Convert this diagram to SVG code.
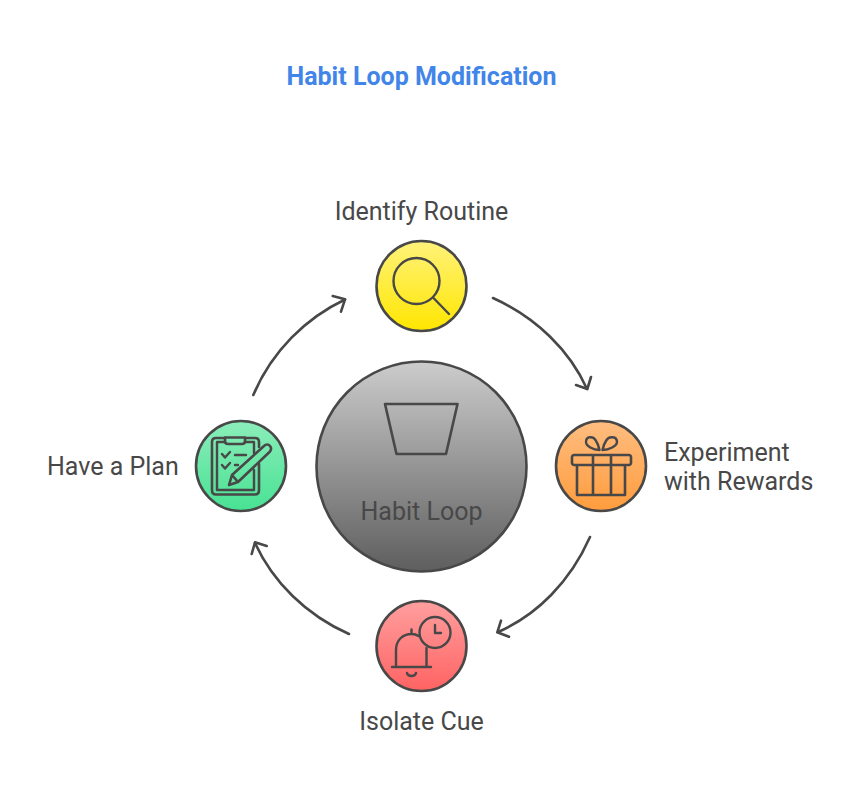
<svg xmlns="http://www.w3.org/2000/svg" width="858" height="798" viewBox="0 0 858 798">
<style>
text{font-family:Roboto,"Liberation Sans",sans-serif;font-size:25px;fill:#484848}
.c{stroke:#484848;stroke-width:2.6px}
.i{fill:none;stroke:#484848;stroke-width:2.6px;stroke-linecap:round;stroke-linejoin:round}
.l{fill:none;stroke:#484848;stroke-width:2.4px;stroke-linecap:round;stroke-linejoin:round}
</style>
<defs>
<linearGradient id="gy" x1="0" y1="0" x2="0" y2="1"><stop offset="0" stop-color="#fff27a"/><stop offset="1" stop-color="#ffe600"/></linearGradient>
<linearGradient id="go" x1="0" y1="0" x2="0" y2="1"><stop offset="0" stop-color="#ffbd80"/><stop offset="1" stop-color="#ff9c3d"/></linearGradient>
<linearGradient id="gr" x1="0" y1="0" x2="0" y2="1"><stop offset="0" stop-color="#ff9f9f"/><stop offset="1" stop-color="#ff6363"/></linearGradient>
<linearGradient id="gg" x1="0" y1="0" x2="0" y2="1"><stop offset="0" stop-color="#8cedba"/><stop offset="1" stop-color="#48e293"/></linearGradient>
<linearGradient id="gc" x1="0" y1="0" x2="0" y2="1"><stop offset="0" stop-color="#cccccc"/><stop offset="1" stop-color="#5e5e5e"/></linearGradient>
</defs>
<rect width="858" height="798" fill="#ffffff"/>
<text x="421.500" y="85" text-anchor="middle" style="font-weight:700;fill:#4285e8">Habit Loop Modification</text>
<g id="connectors" class="i">
<path d="M493 298C537 318 570 351 587 389"/><path d="M591 377L587.300 389L576 385"/>
<path d="M590 537C570 582 537 615 498 632"/><path d="M509 636.700L497.300 632.300L501 620.700"/>
<path d="M349 634C306 615 273 582 255 543"/><path d="M251.700 554L255 542.300L266.700 546"/>
<path d="M253.300 395C272 351 306 318 345 299.500"/><path d="M332.700 296L345 299.300L341 311.700"/>
</g>
<g id="center">
<circle class="c" cx="421.500" cy="466.500" r="105" fill="url(#gc)"/>
<path class="i" d="M385 404H457.500L446 454H396.500Z"/>
<text x="421.500" y="520" text-anchor="middle">Habit Loop</text>
</g>
<g id="identify-routine">
<circle class="c" cx="421.500" cy="286" r="45" fill="url(#gy)"/>
<circle class="l" cx="416.500" cy="281" r="23"/>
<path class="l" d="M433.500 298L449 314"/>
<text x="421.500" y="220" text-anchor="middle">Identify Routine</text>
</g>
<g id="experiment-with-rewards">
<circle class="c" cx="601" cy="466" r="45" fill="url(#go)"/>
<path class="i" d="M574 455H629C630 455 631 456 631 457V463C631 464 630 465 629 465H574C573 465 572 464 572 463V457C572 456 573 455 574 455ZM577 465V495H625V465M593 455V495M611 455V495"/>
<path class="l" d="M599.500 450C593 450 586 446 586 442C586 436 593 436 595.500 440C597.500 443 599 447 599.500 450ZM602.500 450C609 450 617 446 617 442C617 436 609 436 606.500 440C604.500 443 603 447 602.500 450Z"/>
<text x="664" y="460.500">Experiment</text>
<text x="664" y="489.500">with Rewards</text>
</g>
<g id="isolate-cue">
<circle class="c" cx="421.500" cy="646" r="45" fill="url(#gr)"/>
<circle class="l" cx="435" cy="632.500" r="15.500"/>
<path class="l" d="M435 625V633H441"/>
<path class="l" d="M392 667H431M396 667V650C396 640 403 634 411.500 634C414 634 416.500 634.500 418.500 636M426.500 648V667M411.500 634V629.500M407 673C408 677 415 677 416 673"/>
<text x="421.500" y="729.500" text-anchor="middle">Isolate Cue</text>
</g>
<g id="have-a-plan">
<circle class="c" cx="241" cy="466" r="45" fill="url(#gg)"/>
<path class="i" d="M225 438H216C213.500 438 212 439.500 212 442V490C212 493 213.500 494.500 216 494.500H255C257.500 494.500 259 493 259 490V464M245 438H255C257.500 438 259 439.500 259 442V447"/>
<path class="l" d="M217 442V490H254V470M254 453V442H245M217 442H225"/>
<path class="i" d="M225 437.500H245V441C245 443 244 444 242 444H228C226 444 225 443 225 441Z"/>
<path class="l" d="M222 454L225 457.500L230 452M222 465L225 468.500L230 463M235 455H246M235 465H238"/>
<path class="i" d="M232 475L264 446C266 444 268.500 444 270 446C271.500 448 271 450.500 269.500 452L238 482L229 485ZM232 475L238 482"/>
<text x="47" y="475">Have a Plan</text>
</g>
</svg>
